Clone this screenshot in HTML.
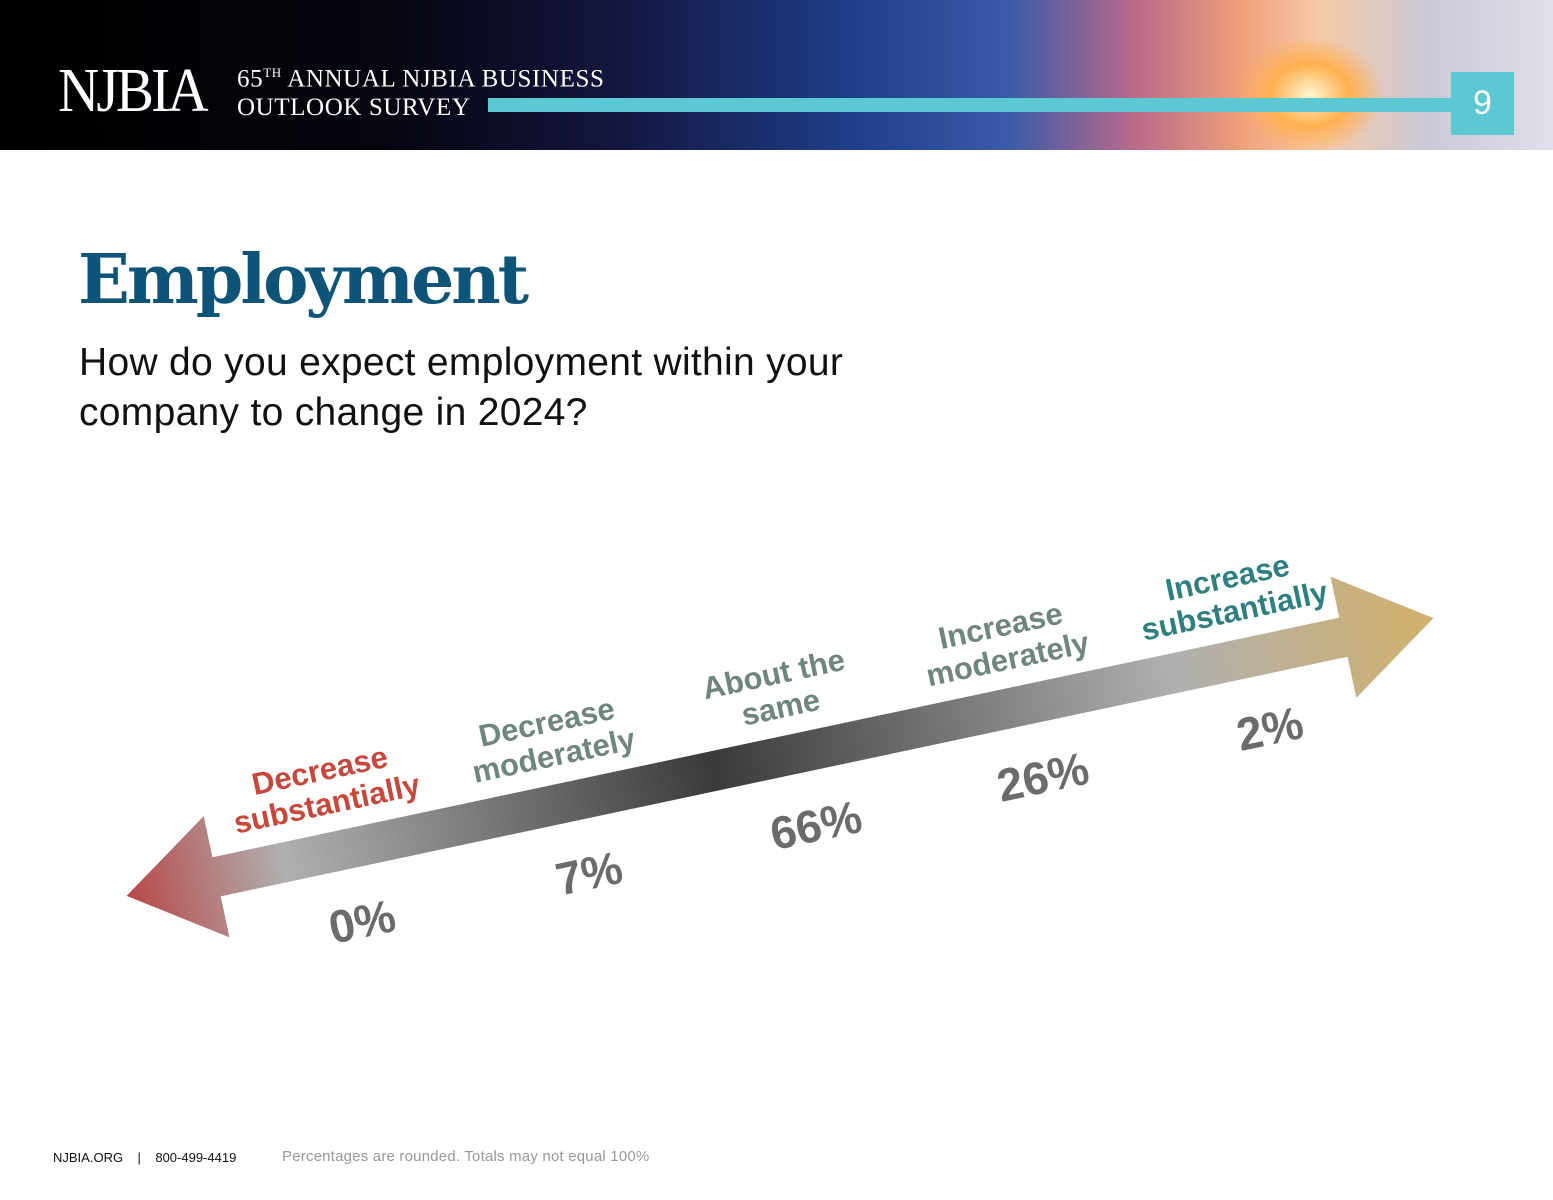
<!DOCTYPE html>
<html><head><meta charset="utf-8"><style>
body{margin:0;width:1553px;height:1200px;background:#fff;position:relative;overflow:hidden;font-family:"Liberation Sans",sans-serif}
.abs{position:absolute}
</style></head><body>
<div class="abs" style="left:0;top:0;width:1553px;height:150px;background:linear-gradient(90deg,#000 0%,#05050f 25%,#141640 40%,#1f3f8a 55%,#3b5aa8 65%,#b86a8a 73%,#f0a07a 80%,#f6c9a8 85%,#c9c9d8 92%,#e0e0ea 100%)"></div>
<div class="abs" style="left:1240px;top:40px;width:140px;height:110px;background:radial-gradient(ellipse at center,#fff6d0 0%,#ffb050 40%,rgba(255,140,60,0) 75%)"></div>
<div class="abs" style="left:58px;top:56px;color:#fff;font-family:'Liberation Serif',serif;font-size:62px;letter-spacing:-3px;transform:scaleX(0.92);transform-origin:left">NJBIA</div>
<div class="abs" style="left:237px;top:58px;color:#fff;font-family:'Liberation Serif',serif;font-size:25px;line-height:29px;letter-spacing:0.6px">65<sup style="font-size:13px">TH</sup> ANNUAL NJBIA BUSINESS<br>OUTLOOK SURVEY</div>
<div class="abs" style="left:488px;top:98px;width:964px;height:14px;background:#5bc8d4"></div>
<div class="abs" style="left:1451px;top:72px;width:63px;height:63px;background:#5bc8d4;color:#fff;font-size:34px;text-align:center;line-height:63px">9</div>
<div class="abs" style="left:78px;top:240px;color:#0d5478;font-family:'DejaVu Serif','Liberation Serif',serif;font-weight:bold;font-size:68px;letter-spacing:-3px">Employment</div>
<div class="abs" style="left:79px;top:338px;color:#111;font-size:39px;line-height:50px;letter-spacing:0.3px">How do you expect employment within your<br>company to change in 2024?</div>
<svg class="abs" style="left:0;top:0" width="1553" height="1200">
<defs>
<linearGradient id="g" x1="0" x2="1" y1="0" y2="0">
<stop offset="0" stop-color="#b84848"/><stop offset="0.12" stop-color="#b0b0b0"/><stop offset="0.45" stop-color="#3a3a3a"/><stop offset="0.8" stop-color="#b0b0b0"/><stop offset="1" stop-color="#d2b06a"/>
</linearGradient>
</defs>
<g id="chart" transform="translate(780,757) rotate(-12)"></g>
</svg>
<div class="abs" style="left:53px;top:1150px;font-size:13px;color:#111">NJBIA.ORG &nbsp;&nbsp;&nbsp;|&nbsp;&nbsp;&nbsp; 800-499-4419</div>
<div class="abs" style="left:282px;top:1148px;font-size:15px;color:#999;letter-spacing:0.2px">Percentages are rounded. Totals may not equal 100%</div>
<script>
const categories=[["Decrease","substantially"],["Decrease","moderately"],["About the","same"],["Increase","moderately"],["Increase","substantially"]];
const values=[0,7,66,26,2];
const labelColors=["#c8473a","#6f8580","#6f8580","#6f8580","#2f7f80"];
const NS="http://www.w3.org/2000/svg";
const g=document.getElementById('chart');
const L=668,hw=20,hh=62,hl=92;
function xPos(i){return -465+i*232;}
const arrow=document.createElementNS(NS,'polygon');
arrow.setAttribute('points',[[-L,0],[-L+hl,-hh],[-L+hl,-hw],[L-hl,-hw],[L-hl,-hh],[L,0],[L-hl,hh],[L-hl,hw],[-L+hl,hw],[-L+hl,hh]].map(p=>p.join(',')).join(' '));
arrow.setAttribute('fill','url(#g)');


g.appendChild(arrow);
categories.forEach((c,i)=>{
  const t=document.createElementNS(NS,'text');
  t.setAttribute('x',xPos(i)+12);t.setAttribute('y',-72);
  t.setAttribute('text-anchor','middle');t.setAttribute('fill',labelColors[i]);
  t.setAttribute('font-family','Liberation Sans, sans-serif');t.setAttribute('font-weight','bold');t.setAttribute('font-size','31');
  
  
  c.forEach((line,j)=>{const s=document.createElementNS(NS,'tspan');s.setAttribute('x',xPos(i)+12);s.setAttribute('dy',j?34:0);s.textContent=line;t.appendChild(s);});
  g.appendChild(t);
  const v=document.createElementNS(NS,'text');
  v.setAttribute('x',xPos(i)+22);v.setAttribute('y',90);
  v.setAttribute('text-anchor','middle');v.setAttribute('fill','#6b6b6b');
  v.setAttribute('font-family','Liberation Sans Narrow, Liberation Sans, sans-serif');v.setAttribute('font-weight','bold');v.setAttribute('font-size','46');
  
  
  v.textContent=values[i]+'%';
  g.appendChild(v);
});
</script>
</body></html>
